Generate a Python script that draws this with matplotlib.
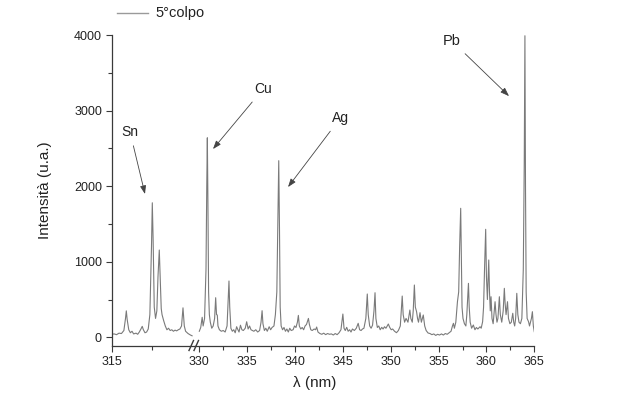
import matplotlib
matplotlib.use("Agg")
import matplotlib.pyplot as plt
from matplotlib.lines import Line2D
from matplotlib.ticker import MultipleLocator, FixedLocator

plt.rcParams['font.family'] = ['Liberation Sans', 'DejaVu Sans']

# ---- data: spectrum, left segment (315-320 nm) ----
wl_left = [315.0, 315.15, 315.3, 315.45, 315.6, 315.75, 315.85, 315.9, 315.95, 316.05,
           316.15, 316.25, 316.35, 316.5, 316.6, 316.7, 316.8, 316.88, 316.95, 317.05,
           317.15, 317.25, 317.35, 317.45, 317.5, 317.55, 317.62, 317.7, 317.78, 317.85,
           317.93, 318.0, 318.05, 318.1, 318.2, 318.3, 318.4, 318.5, 318.6, 318.7,
           318.8, 318.9, 319.0, 319.1, 319.2, 319.3, 319.39, 319.47, 319.55, 319.7,
           319.85, 319.95]
int_left = [40, 45, 35, 55, 50, 90, 250, 350, 240, 100,
            60, 80, 45, 55, 40, 70, 110, 145, 100, 60,
            70, 110, 300, 1200, 1780, 1300, 400, 250, 350, 800,
            1155, 700, 380, 300, 220, 150, 100, 120, 90, 100,
            80, 95, 85, 100, 110, 150, 390, 150, 80, 50,
            30, 20]

# ---- data: spectrum, right segment (330-365 nm) ----
wl_right = [330.0, 330.15, 330.3, 330.4, 330.55, 330.7, 330.78, 330.84, 330.9, 330.97,
            331.05, 331.15, 331.3, 331.45, 331.6, 331.71, 331.8, 331.88, 331.95, 332.1,
            332.3, 332.5, 332.7, 332.9, 333.02, 333.1, 333.18, 333.3, 333.45, 333.6,
            333.75, 333.9, 334.0, 334.15, 334.3, 334.45, 334.6, 334.8, 334.95, 335.1,
            335.25, 335.4, 335.55, 335.7, 335.9, 336.1, 336.3, 336.45, 336.56, 336.65,
            336.8, 336.95, 337.1, 337.3, 337.45, 337.6, 337.8, 337.95, 338.1, 338.2,
            338.3, 338.38, 338.45, 338.55, 338.7, 338.85, 339.0, 339.15, 339.3, 339.45,
            339.6, 339.8, 339.95, 340.1, 340.25, 340.35, 340.45, 340.6, 340.75, 340.9,
            341.05, 341.2, 341.4, 341.5, 341.65, 341.8, 342.0, 342.15, 342.26, 342.4,
            342.6, 342.8, 343.0, 343.2, 343.4, 343.6, 343.8, 344.0, 344.2, 344.4,
            344.6, 344.8, 345.0, 345.12, 345.25, 345.4, 345.55, 345.7, 345.85, 346.0,
            346.2, 346.4, 346.6, 346.75, 346.9, 347.05, 347.2, 347.4, 347.55, 347.65,
            347.8, 347.95, 348.1, 348.25, 348.36, 348.45, 348.6, 348.75, 348.9, 349.06,
            349.2, 349.35, 349.5, 349.75, 349.9, 350.05, 350.2, 350.4, 350.6, 350.8,
            351.0, 351.1, 351.2, 351.3, 351.45, 351.6, 351.8, 352.0, 352.1, 352.25,
            352.35, 352.47, 352.57, 352.7, 352.8, 352.9, 353.06, 353.2, 353.4, 353.55,
            353.7, 353.9, 354.1, 354.3, 354.5, 354.7, 354.9, 355.1, 355.3, 355.5,
            355.7, 355.9, 356.1, 356.3, 356.45, 356.55, 356.65, 356.8, 356.97, 357.1,
            357.2, 357.31, 357.38, 357.45, 357.55, 357.7, 357.85, 357.95, 358.05, 358.12,
            358.2, 358.3, 358.45, 358.63, 358.8, 358.95, 359.1, 359.33, 359.45, 359.6,
            359.7, 359.8, 359.92, 360.0, 360.1, 360.24, 360.32, 360.4, 360.48, 360.58,
            360.7, 360.9, 361.0, 361.1, 361.2, 361.35, 361.45, 361.6, 361.75, 361.87,
            361.95, 362.05, 362.2, 362.3, 362.45, 362.6, 362.75, 362.85, 362.95, 363.05,
            363.17, 363.28, 363.4, 363.55, 363.7, 363.85, 363.95, 364.02, 364.08, 364.15,
            364.25, 364.4, 364.5, 364.6, 364.7, 364.8, 364.9, 365.0]
int_right = [80, 130, 265, 150, 250, 900, 2000, 2640, 1800, 600,
             300, 200, 120, 150, 250, 524, 300, 295, 150, 100,
             80, 90, 70, 150, 500, 745, 400, 120, 80, 100,
             60, 140, 110, 70, 160, 100, 90, 120, 206, 110,
             150, 100, 90, 80, 100, 70, 90, 200, 352, 180,
             90, 120, 80, 140, 100, 130, 150, 300, 600, 1500,
             2337, 1400, 400, 150, 100, 130, 80, 110, 70, 120,
             90, 100, 150, 130, 200, 290, 150, 110, 130, 100,
             150, 170, 250, 170, 100, 90, 110, 100, 136, 70,
             50, 40, 55, 35, 50, 40, 45, 30, 50, 35,
             60, 100, 308, 120, 90, 132, 80, 100, 70, 110,
             90, 120, 185, 100, 90, 110, 120, 250, 573, 300,
             150, 120, 160, 350, 590, 250, 130, 150, 100, 132,
             110, 140, 120, 176, 130, 100, 110, 80, 61, 90,
             150, 350, 546, 300, 200, 250, 200, 361, 250, 200,
             350, 692, 400, 339, 250, 200, 326, 200, 295, 150,
             90, 57, 50, 35, 45, 25, 40, 30, 45, 30,
             50, 40, 60, 80, 150, 185, 120, 200, 471, 600,
             1200, 1707, 1100, 400, 250, 180, 150, 300, 550, 714,
             400, 200, 120, 163, 100, 130, 110, 140, 120, 206,
             400, 900, 1429, 800, 500, 1023, 600, 350, 537, 250,
             180, 471, 300, 200, 250, 537, 300, 200, 350, 648,
             450, 300, 471, 250, 180, 200, 318, 200, 150, 250,
             582, 300, 200, 180, 250, 900, 2300, 3990, 2000, 600,
             250, 206, 150, 200, 250, 339, 150, 74]

y_ticks = [0, 1000, 2000, 3000, 4000]
x_ticks_left = [315]
x_ticks_right = [330, 335, 340, 345, 350, 355, 360, 365]
series_label = "5°colpo"
peak_labels = ["Sn", "Cu", "Ag", "Pb"]

W, H = 625, 404
fig = plt.figure(figsize=(W / 100, H / 100), dpi=100)

def fx(px):
    return px / W

def fy(py):
    return 1 - py / H

x0, xb, x1 = 111.7, 195.0, 534.3
yt, ybt = 35.0, 346.0
axL = fig.add_axes([fx(x0), fy(ybt), fx(xb) - fx(x0), fy(yt) - fy(ybt)])
axR = fig.add_axes([fx(xb), fy(ybt), fx(x1) - fx(xb), fy(yt) - fy(ybt)])

line_col = '#7a7a7a'
spine_col = '#3a3a3a'
text_col = '#222222'

axL.plot(wl_left, int_left, color=line_col, lw=0.8)
axR.plot(wl_right, int_right, color=line_col, lw=0.8)

ylim = (-115, 4000)
axL.set_ylim(*ylim)
axR.set_ylim(*ylim)
axL.set_xlim(315, 315 + (xb - x0) / 16.24)
axR.set_xlim(330 - (199.3 - xb) / 9.57, 365)

for ax in (axL, axR):
    for s in ('top', 'right'):
        ax.spines[s].set_visible(False)
    ax.spines['bottom'].set_color(spine_col)
    ax.spines['bottom'].set_linewidth(0.9)
    ax.tick_params(axis='both', which='major', direction='out', length=4,
                   width=0.8, color=spine_col, labelsize=9, labelcolor=text_col, pad=3)
    ax.tick_params(axis='both', which='minor', direction='out', length=3,
                   width=0.8, color=spine_col)
    ax.set_facecolor('none')

axL.spines['left'].set_color(spine_col)
axL.spines['left'].set_linewidth(0.9)
axR.spines['left'].set_visible(False)
axR.tick_params(axis='y', which='both', left=False, labelleft=False)

axL.yaxis.set_major_locator(FixedLocator(y_ticks))
axL.yaxis.set_minor_locator(MultipleLocator(500))
axL.xaxis.set_major_locator(FixedLocator(x_ticks_left))
axL.xaxis.set_minor_locator(FixedLocator([317.5]))
axR.xaxis.set_major_locator(FixedLocator(x_ticks_right))
axR.xaxis.set_minor_locator(MultipleLocator(2.5))

fig.text(fx(45), fy(190.5), "Intensità (u.a.)", fontsize=11, color=text_col,
         ha='center', va='center', rotation=90)
fig.text(fx(315), fy(383), "λ (nm)", fontsize=11, color=text_col,
         ha='center', va='center')

# axis break marks
for dx in (0.0, 5.0):
    fig.add_artist(Line2D([fx(189 + dx), fx(193.5 + dx)], [fy(350.5), fy(340.5)],
                          color=spine_col, lw=1.0))

# legend
fig.add_artist(Line2D([fx(117), fx(148)], [fy(13), fy(13)], color='#9a9a9a', lw=1.0))
fig.text(fx(155), fy(13), series_label, fontsize=10.5, color=text_col,
         ha='left', va='center')

# annotations
arrow = dict(arrowstyle='-|>,head_length=0.5,head_width=0.18', color='#444444',
             lw=0.6, shrinkA=3, shrinkB=0)
axL.annotate(peak_labels[0], xy=(317.05, 1896), xytext=(316.13, 2717),
             fontsize=10, color=text_col, ha='center', va='center', arrowprops=arrow)
axR.annotate(peak_labels[1], xy=(331.43, 2491), xytext=(336.66, 3285),
             fontsize=10, color=text_col, ha='center', va='center', arrowprops=arrow)
axR.annotate(peak_labels[2], xy=(339.27, 1988), xytext=(344.72, 2900),
             fontsize=10, color=text_col, ha='center', va='center', arrowprops=arrow)
axR.annotate(peak_labels[3], xy=(362.36, 3191), xytext=(356.4, 3920),
             fontsize=10.5, color=text_col, ha='center', va='center', arrowprops=arrow)

fig.savefig("out.png", dpi=100)
